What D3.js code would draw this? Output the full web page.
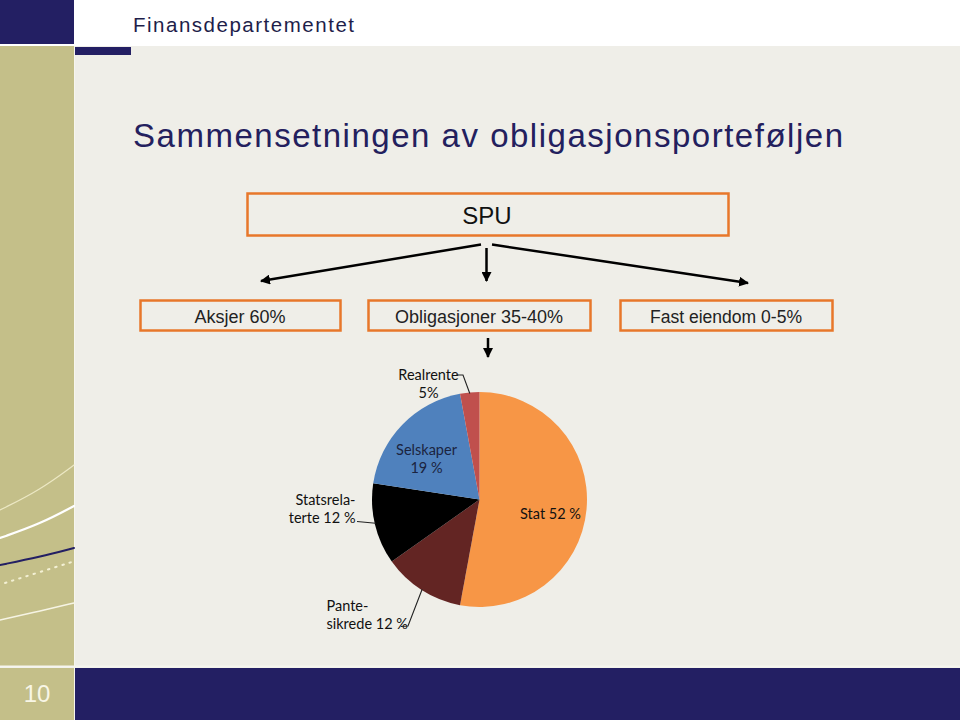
<!DOCTYPE html>
<html><head><meta charset="utf-8">
<script src="https://cdn.jsdelivr.net/npm/d3@7"></script>
<style>html,body{margin:0;padding:0;background:#efeee8;}svg{display:block;}</style>
</head><body>
<script>
const categories = ["Stat", "Pantesikrede", "Statsrelaterte", "Selskaper", "Realrente"];
const values = [52.9, 12.3, 12.2, 19.7, 2.9];
const labelTexts = [["Stat 52 %"], ["Pante-", "sikrede 12 %"], ["Statsrela-", "terte 12 %"], ["Selskaper", "19 %"], ["Realrente", "5%"]];
const colors = ["#f79646", "#632523", "#000000", "#4f81bd", "#c0504d"];
const boxLabels = ["Aksjer 60%", "Obligasjoner 35-40%", "Fast eiendom 0-5%"];
const topLabel = "SPU";
const header = "Finansdepartementet";
const title = "Sammensetningen av obligasjonsporteføljen";
const pageNumber = "10";

const W = 960, H = 720;
const navy = "#231f63", olive = "#c4bf89", bg = "#efeee8", orange = "#e8772a";
const svg = d3.select("body").append("svg").attr("width", W).attr("height", H);

// background & frame
svg.append("rect").attr("width", W).attr("height", H).attr("fill", bg);
svg.append("rect").attr("x", 0).attr("y", 0).attr("width", W).attr("height", 46).attr("fill", "#ffffff");
svg.append("rect").attr("x", 0).attr("y", 0).attr("width", 74).attr("height", 44).attr("fill", navy);
svg.append("rect").attr("x", 0).attr("y", 46).attr("width", 74).attr("height", 620).attr("fill", olive);
svg.append("rect").attr("x", 75).attr("y", 47).attr("width", 56).attr("height", 8).attr("fill", navy);
svg.append("rect").attr("x", 0).attr("y", 668).attr("width", 74).attr("height", 52).attr("fill", olive);
svg.append("rect").attr("x", 75).attr("y", 668).attr("width", W - 75).attr("height", 52).attr("fill", navy);
svg.append("line").attr("x1", 0).attr("x2", W).attr("y1", 666.5).attr("y2", 666.5).attr("stroke", "#f6f5ee").attr("stroke-width", 2);
svg.append("line").attr("x1", 74.5).attr("x2", 74.5).attr("y1", 46).attr("y2", 720).attr("stroke", "#f6f5ee").attr("stroke-width", 1);

// decorative curves on the left strip
const deco = svg.append("g");
const curve = d3.line().curve(d3.curveBasis);
const decoSpecs = [
  {pts: [[0, 510], [40, 490], [74, 465]], stroke: "#ece8c4", w: 1.2, dash: null},
  {pts: [[0, 538], [40, 524], [74, 506]], stroke: "#ffffff", w: 2.2, dash: null},
  {pts: [[0, 565], [40, 557], [74, 548]], stroke: navy, w: 2, dash: null},
  {pts: [[5, 583], [40, 572], [72, 562]], stroke: "#f3f0d4", w: 2, dash: "1.5,6"},
  {pts: [[0, 620], [40, 611], [74, 603]], stroke: "#f6f4e4", w: 1.5, dash: null}
];
decoSpecs.forEach(s => {
  deco.append("path").attr("d", curve(s.pts)).attr("fill", "none")
    .attr("stroke", s.stroke).attr("stroke-width", s.w)
    .attr("stroke-dasharray", s.dash).attr("stroke-linecap", "round");
});

// header + title
svg.append("text").attr("x", 133).attr("y", 31.5).text(header)
  .attr("font-family", "Liberation Sans, Arial, sans-serif").attr("font-size", 20.5)
  .attr("fill", "#1e1e4a").attr("textLength", 221).attr("lengthAdjust", "spacing");
svg.append("text").attr("x", 133).attr("y", 147).text(title)
  .attr("font-family", "Liberation Sans, Arial, sans-serif").attr("font-size", 33)
  .attr("fill", "#23205e").attr("textLength", 710).attr("lengthAdjust", "spacing");

// arrow marker
const defs = svg.append("defs");
defs.append("marker").attr("id", "ah").attr("viewBox", "0 0 10 10").attr("refX", 9).attr("refY", 5)
  .attr("markerWidth", 4).attr("markerHeight", 4).attr("orient", "auto")
  .append("path").attr("d", "M0,0 L10,5 L0,10 Z").attr("fill", "#000");

// SPU box
svg.append("rect").attr("x", 247.5).attr("y", 193.5).attr("width", 481).attr("height", 42)
  .attr("fill", "none").attr("stroke", orange).attr("stroke-width", 2.5);
svg.append("text").attr("x", 487).attr("y", 224).attr("text-anchor", "middle").text(topLabel)
  .attr("font-family", "Liberation Sans, Arial, sans-serif").attr("font-size", 24).attr("fill", "#111");

// arrows from SPU
const arrows = [
  [[481, 244.5], [261, 281]],
  [[486.5, 248], [486.5, 281]],
  [[492, 244.5], [748, 283]],
  [[488, 338], [488, 357]]
];
arrows.forEach(a => {
  svg.append("line").attr("x1", a[0][0]).attr("y1", a[0][1]).attr("x2", a[1][0]).attr("y2", a[1][1])
    .attr("stroke", "#000").attr("stroke-width", 2.5).attr("marker-end", "url(#ah)");
});

// three boxes
const boxX = d3.scaleOrdinal().domain(boxLabels).range([140, 368, 620]);
const boxW = d3.scaleOrdinal().domain(boxLabels).range([200, 222, 212]);
const boxTL = d3.scaleOrdinal().domain(boxLabels).range([91, 168, 152]);
const boxes = svg.append("g").selectAll("g").data(boxLabels).join("g");
boxes.append("rect").attr("x", d => boxX(d) + 0.5).attr("y", 300.5).attr("width", d => boxW(d)).attr("height", 30)
  .attr("fill", "none").attr("stroke", orange).attr("stroke-width", 2.5);
boxes.append("text").attr("x", d => boxX(d) + boxW(d) / 2).attr("y", 323).attr("text-anchor", "middle")
  .text(d => d).attr("font-family", "Liberation Sans, Arial, sans-serif").attr("font-size", 17.5)
  .attr("fill", "#222").attr("textLength", d => boxTL(d)).attr("lengthAdjust", "spacingAndGlyphs");

// pie
const cx = 479.5, cy = 499.5, R = 107.5;
const pie = d3.pie().sort(null).value(d => d)(values);
const arc = d3.arc().innerRadius(0).outerRadius(R);
const pg = svg.append("g").attr("transform", `translate(${cx},${cy})`);
pg.selectAll("path").data(pie).join("path").attr("d", arc).attr("fill", (d, i) => colors[i]);

// labels (positions relative to pie centre)
const labelPos = [
  {x: 71, y: 19, anchor: "middle", fill: "#111"},
  {x: -153, y: 111, anchor: "start", fill: "#111"},
  {x: -124, y: 5, anchor: "end", fill: "#111"},
  {x: -53, y: -45, anchor: "middle", fill: "#1b2440"},
  {x: -51, y: -120, anchor: "middle", fill: "#111"}
];
const lg = pg.append("g").attr("font-family", "Lato, 'Open Sans', sans-serif").attr("font-size", 14.5);
labelTexts.forEach((lines, i) => {
  const p = labelPos[i];
  const t = lg.append("text").attr("x", p.x).attr("y", p.y).attr("text-anchor", p.anchor).attr("fill", p.fill);
  lines.forEach((ln, j) => t.append("tspan").attr("x", p.x).attr("dy", j === 0 ? 0 : 18.5).text(ln));
});
// leader lines
const leaders = [
  {i: 4, frac: 0.5, pts: [[-23.5, -124.5], [-16.5, -124.5]]},
  {i: 2, frac: 0.51, pts: [[-122.5, 22]]},
  {i: 1, frac: 0.5, pts: [[-78.5, 127], [-71.5, 126.5]]}
];
leaders.forEach(l => {
  const d = pie[l.i];
  const a = d.startAngle + (d.endAngle - d.startAngle) * l.frac;
  const end = [Math.sin(a) * (R - 1), -Math.cos(a) * (R - 1)];
  pg.append("path").attr("d", d3.line()([...l.pts, end])).attr("fill", "none")
    .attr("stroke", "#222").attr("stroke-width", 1.1);
});

// page number
svg.append("text").attr("x", 37).attr("y", 702).attr("text-anchor", "middle").text(pageNumber)
  .attr("font-family", "Liberation Sans, Arial, sans-serif").attr("font-size", 24).attr("fill", "#f8f6e6");
</script>
</body></html>
